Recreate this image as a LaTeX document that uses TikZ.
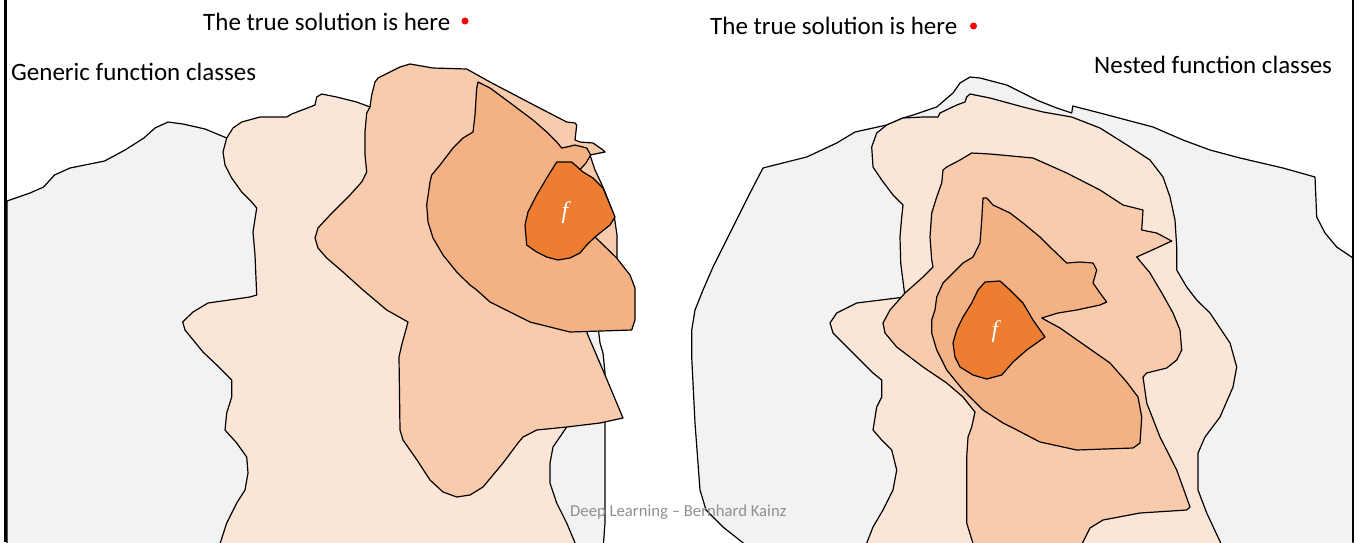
\documentclass[tikz,border=0pt]{standalone}
\usepackage{fontspec}
\setmainfont{Carlito}
\newfontfamily\fserif{Liberation Serif}
\usepackage{xcolor}
\usepackage{tikz}
\usetikzlibrary{positioning}
\definecolor{classgray}{HTML}{F2F2F2}
\definecolor{classA}{HTML}{FBE5D6}
\definecolor{classB}{HTML}{F8CBAD}
\definecolor{classC}{HTML}{F4B183}
\definecolor{classD}{HTML}{ED7D31}
\definecolor{footgray}{HTML}{8F8F8F}

\begin{document}
\begin{tikzpicture}[x=1pt, y=-1pt,
  blob/.style={draw=black, line width=1.2pt, line join=round},
  heading/.style={font=\fontsize{25}{30}\selectfont, inner sep=0pt, anchor=base west},
  fname/.style={font=\fontsize{24}{24}\selectfont\fserif\itshape, text=white, inner sep=0pt}]
  \useasboundingbox (0,0) rectangle (1359,542);
  \clip (0,0) rectangle (1359,542);

  \fill[blob, fill=classgray] (7,201) -- (30,193) -- (43.6,187) -- (54.5,175) -- (70,168) -- (104.6,161)
    -- (125,150) -- (143.9,138) -- (155,128) -- (168,122) -- (183,124) -- (205,129) -- (226.7,138)
    -- (300,200) -- (560,330) -- (598,326) -- (600,343) -- (603,353) -- (605,373) -- (605,423)
    -- (605,523) -- (603,550) -- (7,550) -- cycle;
  \filldraw[blob, fill=classA] (370,107) -- (356.7,102) -- (336.7,97) -- (321.7,94) -- (316.7,97) -- (315,105)
    -- (310,107) -- (291.7,114) -- (286.7,117) -- (260,117) -- (241.7,122) -- (233,128) -- (226.7,138)
    -- (223,152) -- (225,165) -- (231.7,178) -- (241.7,192) -- (251.7,202) -- (256.7,208) -- (253,232)
    -- (255,255) -- (256.7,295) -- (250,297) -- (208,303) -- (193,312) -- (182.7,322) -- (185,330)
    -- (203,352) -- (216.7,365) -- (231.7,380) -- (231.7,397) -- (226.7,413) -- (225,430) -- (236.7,443)
    -- (246.7,457) -- (248,473) -- (245,490) -- (236.7,503) -- (226.7,523) -- (218,550) -- (578,550)
    -- (566.7,523) -- (556.7,503) -- (550,483) -- (550,463) -- (553,447) -- (566.7,427) -- (560,400)
    -- (500,200) -- cycle;
  \filldraw[blob, fill=classB] (370,107) -- (371.7,95) -- (375,82) -- (378,78) -- (390,72) -- (400,67)
    -- (410,64) -- (433,68) -- (466.7,69) -- (490,82) -- (530,103) -- (566.7,122) -- (575,123)
    -- (576.7,125) -- (575,140) -- (580,142) -- (593,143) -- (603,150) -- (605,152) -- (590,155)
    -- (595,170) -- (603,187) -- (614,215) -- (617,235) -- (617,258) -- (600,300) -- (587,333)
    -- (605,375) -- (623,418) -- (600,423) -- (566.7,427) -- (536.7,430) -- (523,437) -- (518,443)
    -- (503,463) -- (483,487) -- (470,495) -- (456.7,497) -- (443,492) -- (430,480) -- (417,460)
    -- (403,440) -- (400,430) -- (399,357) -- (401.7,345) -- (408,322) -- (386.7,310) -- (363,290)
    -- (343,272) -- (326.7,258) -- (318,248) -- (315,238) -- (318,228) -- (330,215) -- (350,195)
    -- (361.7,182) -- (366.7,172) -- (365,155) -- (365,132) -- (366.7,113) -- cycle;
  \filldraw[blob, fill=classC] (478,82) -- (490,88) -- (513,105) -- (533,120) -- (546.7,132) -- (556.7,142)
    -- (561.7,148) -- (566.7,147) -- (575,145) -- (586.7,148) -- (590.7,155) -- (586,163) -- (575,175)
    -- (595,237) -- (616.7,258) -- (630,275) -- (635,288) -- (635,320) -- (631.7,330) -- (570,332)
    -- (530,322) -- (490,302) -- (476.7,290) -- (470,285) -- (456.7,272) -- (443,255) -- (433,238)
    -- (428,222) -- (426.7,205) -- (430,182) -- (431.7,175) -- (440,165) -- (453,148) -- (463,138)
    -- (473,132) -- (475,115) -- (476.7,88) -- cycle;
  \filldraw[blob, fill=classD] (556.7,162) -- (571.7,162) -- (583,172) -- (593,178) -- (603,188) -- (615,217)
    -- (610,225) -- (595,237) -- (586.7,245) -- (580,253) -- (570,258) -- (558,260) -- (546.7,257)
    -- (536.7,252) -- (526.7,245) -- (525,225) -- (528,212) -- (536.7,195) -- (546.7,178) -- cycle;
  \node[fname] (fgeneric) at (565,213) {f};

  \filldraw[blob, fill=classgray] (752,550) -- (723,527) -- (706,510) -- (700,490) -- (695,423) -- (691.7,357)
    -- (691.7,330) -- (695,310) -- (703,290) -- (713,267) -- (733,227) -- (750,193) -- (763,168)
    -- (786.7,162) -- (806.7,157) -- (836.7,143) -- (846.7,137) -- (855,132) -- (886.7,125) -- (903,118)
    -- (913,115) -- (936.7,107) -- (953,93) -- (960,83) -- (970,77) -- (980,78) -- (1006.7,85)
    -- (1036.7,100) -- (1056.7,108) -- (1071.7,113) -- (1072.7,106) -- (1100,113) -- (1153,127)
    -- (1183,140) -- (1210,150) -- (1240,158) -- (1283,168) -- (1315,177) -- (1316.7,217) -- (1325,233)
    -- (1336.7,247) -- (1353,258) -- (1353,550) -- cycle;
  \filldraw[blob, fill=classA] (886.7,125) -- (903,118) -- (923,117) -- (938,117) -- (940,113) -- (956.7,105)
    -- (965,102) -- (966.7,97) -- (970,94) -- (990,98) -- (1023,107) -- (1043,112) -- (1071.7,117)
    -- (1100,128) -- (1127,145) -- (1150,160) -- (1163,177) -- (1170,197) -- (1175,220) -- (1176.7,247)
    -- (1176.7,270) -- (1186.7,287) -- (1196.7,300) -- (1210,313) -- (1230,343) -- (1236.7,367)
    -- (1233,387) -- (1220,417) -- (1205,437) -- (1198,453) -- (1198,490) -- (1206.7,513) -- (1224,550)
    -- (864,550) -- (873,527) -- (883,510) -- (893,490) -- (896.7,470) -- (891.7,450) -- (881.7,440)
    -- (873,430) -- (876.7,407) -- (881.7,397) -- (881.7,380) -- (873,373) -- (863,363) -- (850,350)
    -- (833,333) -- (830,323) -- (836.7,313) -- (856.7,303) -- (905,297) -- (900.7,263) -- (900,237)
    -- (901.7,217) -- (903,205) -- (893,195) -- (881.7,180) -- (873,167) -- (871.7,147) -- (876.7,133)
    -- cycle;
  \filldraw[blob, fill=classB] (943,170) -- (946.7,167) -- (960,160) -- (971.7,153) -- (990,154) -- (1033,158)
    -- (1066.7,173) -- (1100,190) -- (1123,205) -- (1143,210) -- (1141.7,230) -- (1156.7,233)
    -- (1171.7,241) -- (1156.7,248) -- (1136.7,257) -- (1150,273) -- (1163,295) -- (1173,313)
    -- (1180,330) -- (1181.7,350) -- (1176.7,360) -- (1166.7,368) -- (1146.7,373) -- (1143,377)
    -- (1146.7,403) -- (1160,437) -- (1176.7,470) -- (1190,507) -- (1186.7,510) -- (1140,513)
    -- (1103,520) -- (1090,528) -- (1079,550) -- (975,550) -- (966.7,523) -- (966.7,457) -- (968,437)
    -- (971.7,427) -- (975,412) -- (963,397) -- (946.7,383) -- (923,367) -- (896.7,347) -- (885,333)
    -- (883,323) -- (890,310) -- (905,293) -- (923,277) -- (933,267) -- (931.7,260) -- (930,237)
    -- (931.7,213) -- (936.7,197) -- (941.7,183) -- cycle;
  \filldraw[blob, fill=classC] (983,198) -- (986.7,198) -- (993,205) -- (1010,213) -- (1023,223) -- (1040,237)
    -- (1050,247) -- (1066.7,263) -- (1080,262) -- (1093,263) -- (1096.7,270) -- (1093,283) -- (1100,293)
    -- (1106.7,302) -- (1100,305) -- (1076.7,310) -- (1058,313) -- (1041.7,318) -- (1060,328)
    -- (1080,342) -- (1110,363) -- (1126.7,382) -- (1138,397) -- (1141.7,417) -- (1140,443) -- (1133,448)
    -- (1076.7,450) -- (1040,442) -- (1013,428) -- (1003,423) -- (983,410) -- (963,390) -- (946.7,370)
    -- (936.7,350) -- (931.7,333) -- (931.7,320) -- (935,310) -- (936.7,297) -- (943,283) -- (953,273)
    -- (963,263) -- (973,257) -- (980,243) -- (981.7,220) -- cycle;
  \filldraw[blob, fill=classD] (985,282) -- (1000,281) -- (1010,290) -- (1023,303) -- (1033,320) -- (1040,330)
    -- (1045,337) -- (1026.7,350) -- (1013,362) -- (1001.7,375) -- (986.7,379) -- (973,375) -- (960,367)
    -- (955,357) -- (953,343) -- (956.7,330) -- (963,317) -- (971.7,303) -- (978,290) -- cycle;
  \node[fname] (fnested) at (995,332) {f};

  \draw[line width=2.5pt] (5.5,0) -- (5.5,542);
  \draw[line width=2.5pt] (1353,0) -- (1353,542);

  \node[heading] (truthL) at (203,30) {The true solution is here};
  \fill[red] (465,21) circle (3.5);
  \node[heading] (truthR) at (710,34) {The true solution is here};
  \fill[red] (973.5,26) circle (3.5);
  \node[heading] (generic) at (11,80) {Generic function classes};
  \node[heading] (nested) at (1094,73) {Nested function classes};
  \node[font=\fontsize{16.7}{20}\selectfont, text=footgray, inner sep=0pt, anchor=base west] (footer)
    at (570,516) {Deep Learning -- Bernhard Kainz};
\end{tikzpicture}
\end{document}
